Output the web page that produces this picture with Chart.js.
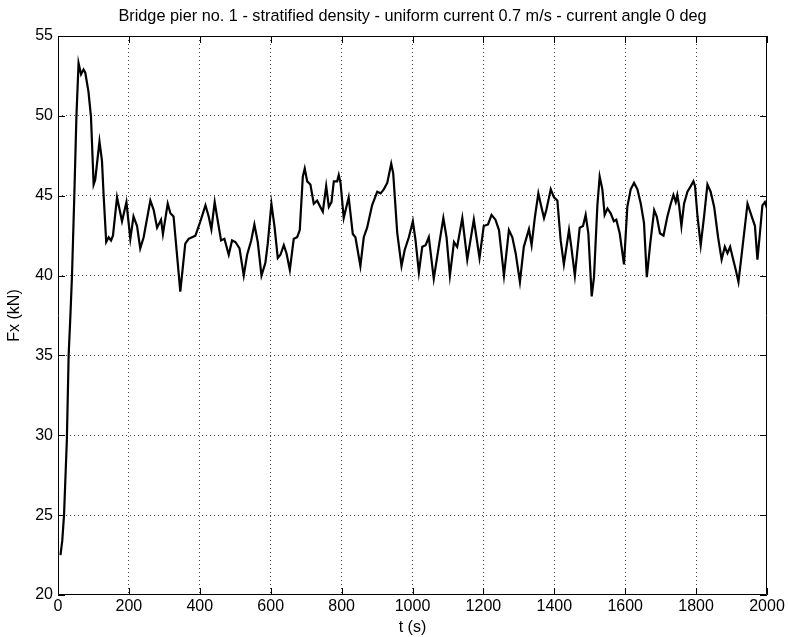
<!DOCTYPE html>
<html>
<head>
<meta charset="utf-8">
<script src="https://cdn.jsdelivr.net/npm/chart.js@4/dist/chart.umd.min.js"></script>
<style>
  html, body { margin: 0; padding: 0; background: #fff; }
  #wrap { width: 788px; height: 637px; }
</style>
</head>
<body>
<div id="wrap"><canvas id="fxChart" width="788" height="637"></canvas></div>
<script>
// time (s) and horizontal force Fx (kN) on pier no. 1
const timeS = [
    7, 12, 17, 25, 30, 35, 39.5, 46, 52, 58, 65, 72, 77, 86, 93, 100.5, 105, 117, 124, 129,
    136, 143, 149.6, 155, 166.5, 180.6, 193, 204, 213, 223, 232, 241.6, 260.5, 270, 279.5, 290.7, 296, 309.5, 317, 326,
    345, 359, 368.6, 378, 387.6, 401.7, 416, 425, 432.7, 442, 451.6, 460, 469.4, 481.6, 491, 500.5, 512, 524, 533.5, 545,
    554, 563.5, 574, 585, 591.7, 602, 610.6, 620, 627.5, 637, 644.5, 654, 665, 674.6, 682, 690.6, 696, 703, 712, 721.5,
    731, 740, 747, 756.5, 764, 771.5, 778, 787.5, 792, 797, 806, 820, 831.6, 839, 853, 862.6, 872, 886, 900.5, 910,
    919, 928.7, 940, 945.6, 957, 969, 978, 989.7, 1001, 1008.6, 1018, 1027.5, 1037, 1046, 1060, 1074, 1087, 1096, 1105.5, 1117,
    1126, 1140.5, 1154.5, 1173, 1189, 1201, 1213, 1223, 1234, 1244, 1258, 1272, 1281.6, 1291, 1303, 1314, 1328.5, 1336, 1345.5, 1355,
    1361.5, 1371, 1377.5, 1390, 1399, 1408.6, 1418, 1427, 1441.5, 1448, 1458, 1471.6, 1481, 1488.5, 1496, 1505.5, 1512, 1521.5, 1528, 1535.6,
    1542, 1550, 1559, 1568, 1575, 1584.5, 1596.6, 1606, 1615.5, 1625, 1634.5, 1644, 1653, 1661, 1670.6, 1681.8, 1689, 1698, 1708, 1719,
    1728.5, 1736, 1742.6, 1747, 1752, 1758.6, 1766, 1775.6, 1785, 1792.5, 1797, 1804, 1813, 1822.5, 1832, 1841, 1851, 1862, 1872, 1881,
    1888.5, 1896, 1902.5, 1912, 1919.5, 1931, 1945, 1954, 1966, 1973, 1980, 1987, 1994, 2000
];
const forceKN = [
    22.5, 23.4, 25.0, 29.7, 35.0, 37.5, 40.0, 45.0, 50.0, 53.3, 52.6, 52.9, 52.7, 51.5, 49.95, 45.7, 46.0, 48.4, 47.2, 44.9,
    42.1, 42.4, 42.2, 42.5, 44.9, 43.4, 44.6, 42.3, 43.7, 43.1, 41.7, 42.4, 44.7, 44.1, 43.0, 43.5, 42.6, 44.5, 43.9, 43.7,
    39.0, 42.0, 42.3, 42.4, 42.5, 43.4, 44.4, 43.7, 42.9, 44.6, 43.3, 42.2, 42.3, 41.3, 42.2, 42.1, 41.7, 40.0, 41.3, 42.2,
    43.2, 42.1, 40.0, 40.8, 42.0, 44.5, 43.1, 41.1, 41.3, 41.9, 41.4, 40.35, 42.3, 42.4, 42.85, 46.2, 46.7, 45.9, 45.7, 44.5,
    44.7, 44.3, 44.0, 45.6, 44.3, 44.6, 45.9, 45.9, 46.3, 45.8, 43.6, 44.9, 42.6, 42.4, 40.6, 42.4, 43.0, 44.4, 45.25, 45.15,
    45.4, 45.8, 47.0, 46.4, 42.65, 40.6, 41.6, 42.4, 43.4, 42.2, 40.2, 41.8, 41.9, 42.4, 39.8, 41.8, 43.6, 42.4, 40.0, 42.1,
    41.8, 43.6, 41.0, 43.5, 41.1, 43.1, 43.2, 43.8, 43.5, 42.85, 40.0, 42.85, 42.4, 41.4, 39.6, 41.8, 42.9, 41.9, 43.7, 45.15,
    44.5, 43.6, 44.1, 45.4, 44.9, 44.7, 42.2, 40.7, 42.85, 41.8, 40.0, 43.0, 43.1, 43.8, 42.65, 38.7, 39.9, 44.4, 46.2, 45.4,
    43.8, 44.2, 43.9, 43.4, 43.5, 42.65, 40.7, 44.3, 45.4, 45.8, 45.4, 44.5, 43.3, 39.9, 42.0, 44.1, 43.7, 42.65, 42.5, 43.7,
    44.5, 45.05, 44.6, 45.05, 44.4, 43.1, 44.5, 45.25, 45.6, 45.9, 45.6, 43.7, 41.9, 43.7, 45.7, 45.25, 44.3, 42.4, 41.0, 41.8,
    41.4, 41.8, 41.2, 40.35, 39.6, 41.8, 44.5, 43.9, 43.1, 41.0, 42.65, 44.4, 44.6, 44.2
];

// axis ticks
const xTicks = [0, 200, 400, 600, 800, 1000, 1200, 1400, 1600, 1800, 2000];
const yTicks = [20, 25, 30, 35, 40, 45, 50, 55];

const TITLE = "Bridge pier no. 1 - stratified density - uniform current 0.7 m/s - current angle 0 deg";
const FONT = "'Liberation Sans', Arial, Helvetica, sans-serif";

const points = timeS.map((t, i) => ({ x: t, y: forceKN[i] }));

// title centred over the axes, box around them, inward tick marks on all four sides
const boxTicks = {
    id: "boxTicks",
    afterDraw(chart) {
        const { ctx, chartArea: a, scales } = chart;
        ctx.save();
        ctx.fillStyle = "#000";
        ctx.font = "16.3px " + FONT;
        ctx.textAlign = "center";
        ctx.textBaseline = "middle";
        ctx.fillText(TITLE, (a.left + a.right) / 2, 17);

        ctx.strokeStyle = "#000";
        ctx.lineWidth = 1;
        ctx.beginPath();
        ctx.rect(a.left + 0.5, a.top + 0.5, a.right - a.left - 1, a.bottom - a.top - 1);
        ctx.stroke();

        const len = 7;
        ctx.beginPath();
        xTicks.forEach(v => {
            const px = Math.round(scales.x.getPixelForValue(v)) + 0.5;
            ctx.moveTo(px, a.bottom); ctx.lineTo(px, a.bottom - len);
            ctx.moveTo(px, a.top); ctx.lineTo(px, a.top + len);
        });
        yTicks.forEach(v => {
            const py = Math.round(scales.y.getPixelForValue(v)) + 0.5;
            ctx.moveTo(a.left, py); ctx.lineTo(a.left + len, py);
            ctx.moveTo(a.right, py); ctx.lineTo(a.right - len, py);
        });
        ctx.stroke();
        ctx.restore();
    }
};

// dotted grid, hidden on the outer edges
function gridColor(lo, hi) {
    return ctx => (ctx.tick && (ctx.tick.value === lo || ctx.tick.value === hi)) ? "rgba(0,0,0,0)" : "#444";
}

new Chart(document.getElementById("fxChart").getContext("2d"), {
    type: "line",
    data: {
        datasets: [{
            data: points,
            borderColor: "#000",
            borderWidth: 2.2,
            pointRadius: 0,
            tension: 0,
            fill: false
        }]
    },
    options: {
        responsive: false,
        animation: false,
        layout: { padding: { left: 0, right: 21, top: 36, bottom: 0 } },
        plugins: {
            legend: { display: false },
            tooltip: { enabled: false },
            title: { display: false }
        },
        scales: {
            x: {
                type: "linear",
                min: 0, max: 2000,
                afterBuildTicks: s => { s.ticks = xTicks.map(v => ({ value: v })); },
                afterFit: s => { s.height = 42; },
                ticks: {
                    color: "#000", font: { family: FONT, size: 16 }, padding: 2, maxRotation: 0,
                    callback: v => String(v)
                },
                grid: { color: gridColor(0, 2000), drawTicks: false },
                border: { display: false, dash: [1, 3] },
                title: { display: true, text: "t (s)", color: "#000", font: { family: FONT, size: 16 }, padding: { top: 0, bottom: 0 } }
            },
            y: {
                min: 20, max: 55,
                afterBuildTicks: s => { s.ticks = yTicks.map(v => ({ value: v })); },
                afterFit: s => { s.width = 58; },
                ticks: {
                    color: "#000", font: { family: FONT, size: 16 }, padding: 5,
                    callback: v => String(v)
                },
                grid: { color: gridColor(20, 55), drawTicks: false },
                border: { display: false, dash: [1, 3] },
                title: { display: true, text: "Fx (kN)", color: "#000", font: { family: FONT, size: 16 }, padding: { top: 5, bottom: 0 } }
            }
        }
    },
    plugins: [boxTicks]
});
</script>
</body>
</html>
